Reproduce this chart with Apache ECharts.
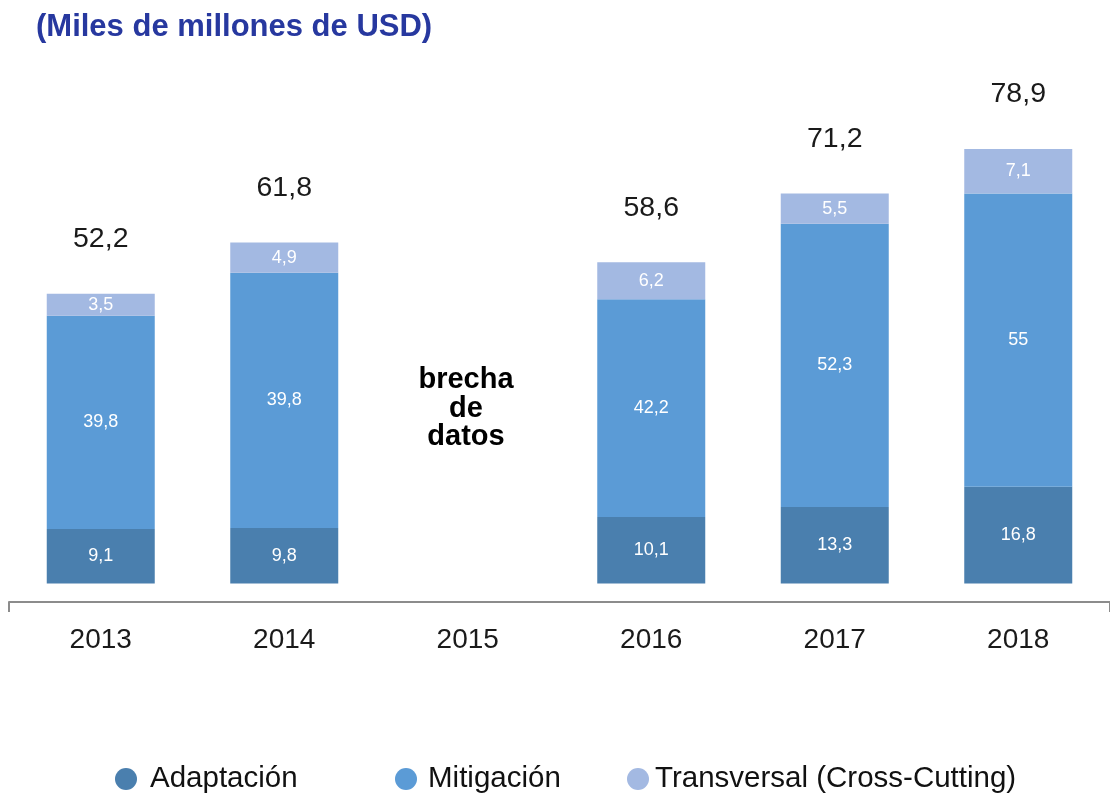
<!DOCTYPE html>
<html>
<head>
<meta charset="utf-8">
<script src="https://cdn.jsdelivr.net/npm/echarts@6/dist/echarts.min.js"></script>
<style>
    html, body { margin: 0; padding: 0; background: #fff; }
    #barChart { width: 1110px; height: 796px; }
</style>
</head>
<body>
<div id="barChart"></div>
<script>
    // categorías (años)
    const years = ['2013', '2014', '2015', '2016', '2017', '2018']
    // altura de cada tramo tal como se dibuja en la figura
    const adaptacion = [9.9, 10.1, null, 12.1, 13.9, 17.6]
    const mitigacion = [38.8, 46.4, null, 39.6, 51.5, 53.3]
    const transversal = [4.0, 5.5, null, 6.7, 5.5, 8.1]
    // cifras impresas en la figura
    const textoAdaptacion = [9.1, 9.8, null, 10.1, 13.3, 16.8]
    const textoMitigacion = [39.8, 39.8, null, 42.2, 52.3, 55]
    const textoTransversal = [3.5, 4.9, null, 6.2, 5.5, 7.1]
    const totales = [52.2, 61.8, null, 58.6, 71.2, 78.9]

    const fuente = '"Liberation Sans", Arial, Helvetica, sans-serif'

    function coma(v) {
        if (v === null || v === undefined) return ''
        return String(v).replace('.', ',')
    }

    function tramo(name, data, textos, color) {
        return {
            name: name,
            type: 'bar',
            stack: 'total',
            barWidth: 108,
            data: data,
            itemStyle: { color: color },
            label: {
                show: true,
                position: 'inside',
                color: '#ffffff',
                fontFamily: fuente,
                fontSize: 18,
                formatter: function (p) { return coma(textos[p.dataIndex]) }
            },
            emphasis: { disabled: true }
        }
    }

    function leyenda(name, left, hueco) {
        return {
            data: [name],
            left: left,
            top: 764,
            padding: 0,
            icon: 'circle',
            itemWidth: 22,
            itemHeight: 22,
            selectedMode: false,
            textStyle: {
                color: '#111',
                fontFamily: fuente,
                fontSize: 29.5,
                lineHeight: 30,
                padding: [0, 0, 0, hueco]
            }
        }
    }

    let myChart = echarts.init(document.getElementById('barChart'))
    myChart.setOption({
        animation: false,
        title: {
            text: '(Miles de millones de USD)',
            left: 36,
            top: 12,
            padding: 0,
            textStyle: {
                color: '#27389f',
                fontFamily: fuente,
                fontWeight: 'bold',
                fontSize: 31
            }
        },
        legend: [
            leyenda('Adaptación', 115, 8),
            leyenda('Mitigación', 395, 6),
            leyenda('Transversal (Cross-Cutting)', 627, 1)
        ],
        grid: {
            left: 9,
            width: 1101,
            top: 143.5,
            bottom: 212.5
        },
        xAxis: {
            type: 'category',
            data: years,
            offset: 18.5,
            axisLine: {
                show: true,
                onZero: false,
                lineStyle: { color: '#8c8c8c', width: 2 }
            },
            axisTick: {
                show: true,
                length: 10,
                interval: function (i) { return i === 0 },
                lineStyle: { color: '#8c8c8c', width: 2 }
            },
            axisLabel: {
                margin: 24,
                color: '#1a1a1a',
                fontFamily: fuente,
                fontSize: 28
            }
        },
        yAxis: {
            type: 'value',
            min: 0,
            max: 80,
            show: false
        },
        graphic: [{
            type: 'text',
            x: 466,
            y: 366,
            style: {
                text: 'brecha\nde\ndatos',
                textAlign: 'center',
                textVerticalAlign: 'top',
                fill: '#000',
                font: 'bold 29px "Liberation Sans", Arial, sans-serif',
                lineHeight: 28.5
            }
        }],
        series: [
            tramo('Adaptación', adaptacion, textoAdaptacion, '#4a7fae'),
            tramo('Mitigación', mitigacion, textoMitigacion, '#5b9bd6'),
            tramo('Transversal (Cross-Cutting)', transversal, textoTransversal, '#a3b9e2'),
            {
                name: 'total',
                type: 'bar',
                stack: 'total',
                barWidth: 108,
                data: totales.map(function (v) { return v === null ? null : 0 }),
                itemStyle: { color: 'transparent' },
                label: {
                    show: true,
                    position: 'top',
                    distance: 40,
                    color: '#1a1a1a',
                    fontFamily: fuente,
                    fontSize: 28.5,
                    formatter: function (p) { return coma(totales[p.dataIndex]) }
                },
                emphasis: { disabled: true }
            }
        ]
    })
</script>
</body>
</html>
